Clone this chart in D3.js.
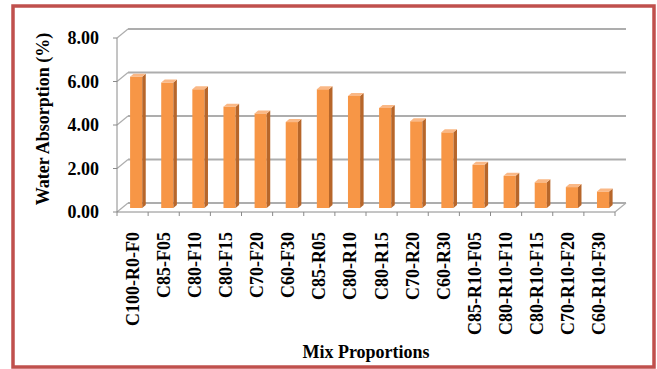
<!DOCTYPE html>
<html>
<head>
<meta charset="utf-8">
<script src="https://cdn.jsdelivr.net/npm/d3@7"></script>
<style>
  body { margin: 0; background: #fff; }
  text { font-family: "Liberation Serif", "Times New Roman", serif; font-weight: bold; fill: #000; }
</style>
</head>
<body>
<script>
// chart data
const categories = ["C100-R0-F0", "C85-F05", "C80-F10", "C80-F15", "C70-F20", "C60-F30",
  "C85-R05", "C80-R10", "C80-R15", "C70-R20", "C60-R30",
  "C85-R10-F05", "C80-R10-F10", "C80-R10-F15", "C70-R10-F20", "C60-R10-F30"];
const absorption = [6.04, 5.77, 5.46, 4.66, 4.35, 3.95, 5.46, 5.15, 4.6, 3.99, 3.48, 1.99, 1.48, 1.18, 0.96, 0.76];
const yTicks = [0, 2, 4, 6, 8];

const width = 657, height = 369;
// 3d offsets: back wall and bar depth
const backDx = 11, backDy = -9;
const barDx = 3.6, barDy = -4;
const sideDx = 3.5, sideDy = -3;

const svg = d3.select("body").append("svg")
  .attr("width", width)
  .attr("height", height);

// outer frame
svg.append("rect")
  .attr("x", 13).attr("y", 6)
  .attr("width", 641).attr("height", 361)
  .attr("fill", "#fff")
  .attr("stroke", "#C0504D")
  .attr("stroke-width", 3.5);

const x = d3.scaleBand().domain(categories).range([117, 615]);
const y = d3.scaleLinear().domain([0, 8]).range([212, 38]);

// gridlines on the back wall and side wall
const grid = svg.append("g");
yTicks.forEach(function (t) {
  grid.append("line")
    .attr("x1", 117 + backDx).attr("x2", 615 + backDx)
    .attr("y1", y(t) + backDy).attr("y2", y(t) + backDy)
    .attr("stroke", "#ADADAD").attr("stroke-width", 2);
  grid.append("line")
    .attr("x1", 117).attr("x2", 117 + backDx)
    .attr("y1", y(t)).attr("y2", y(t) + backDy)
    .attr("stroke", "#ADADAD").attr("stroke-width", 1.2);
});
// floor right edge
grid.append("line")
  .attr("x1", 615).attr("x2", 615 + backDx)
  .attr("y1", y(0)).attr("y2", y(0) + backDy)
  .attr("stroke", "#ADADAD").attr("stroke-width", 1.2);

// bars
const barW = x.bandwidth() * 0.39;
const bars = svg.append("g").selectAll("g")
  .data(absorption)
  .join("g");

bars.each(function (v, i) {
  const g = d3.select(this);
  const x0 = x(categories[i]) + x.bandwidth() / 2 + barDx - barW / 2;
  const x1 = x0 + barW;
  const yt = y(v) + barDy;
  const yb = y(0) + barDy;
  // front face
  g.append("rect")
    .attr("x", x0).attr("y", yt)
    .attr("width", barW).attr("height", yb - yt)
    .attr("fill", "#F79646");
  // side face
  g.append("polygon")
    .attr("points", [[x1, yt], [x1 + sideDx, yt + sideDy], [x1 + sideDx, yb + sideDy], [x1, yb]].join(" "))
    .attr("fill", "#B7662A");
  // top face
  g.append("polygon")
    .attr("points", [[x0, yt], [x0 + sideDx, yt + sideDy], [x1 + sideDx, yt + sideDy], [x1, yt]].join(" "))
    .attr("fill", "#FAB886");
});

// axes
const axisColor = "#8A8A8A";
svg.append("line")
  .attr("x1", 117).attr("x2", 117)
  .attr("y1", y(8)).attr("y2", y(0))
  .attr("stroke", axisColor);
svg.append("line")
  .attr("x1", 117).attr("x2", 615)
  .attr("y1", y(0)).attr("y2", y(0))
  .attr("stroke", axisColor);

yTicks.forEach(function (t) {
  svg.append("line")
    .attr("x1", 113).attr("x2", 117)
    .attr("y1", y(t)).attr("y2", y(t))
    .attr("stroke", axisColor);
  svg.append("text")
    .attr("x", 99).attr("y", y(t))
    .attr("text-anchor", "end")
    .attr("dominant-baseline", "central")
    .style("font-size", "18px")
    .text(t.toFixed(2));
});

// category ticks at band edges
const edges = categories.map(function (c) { return x(c); }).concat([615]);
edges.forEach(function (e) {
  svg.append("line")
    .attr("x1", e).attr("x2", e)
    .attr("y1", y(0)).attr("y2", y(0) + 4)
    .attr("stroke", axisColor);
});

// category labels, rotated
categories.forEach(function (c) {
  const cx = x(c) + x.bandwidth() / 2;
  svg.append("text")
    .attr("transform", "translate(" + cx + ",232) rotate(-90)")
    .attr("text-anchor", "end")
    .attr("dominant-baseline", "central")
    .style("font-size", "18px")
    .text(c);
});

// axis titles
svg.append("text")
  .attr("transform", "translate(43,119) rotate(-90)")
  .attr("text-anchor", "middle")
  .attr("dominant-baseline", "central")
  .style("font-size", "18px")
  .text("Water Absorption (%)");

svg.append("text")
  .attr("x", 366).attr("y", 358)
  .attr("text-anchor", "middle")
  .style("font-size", "18px")
  .text("Mix Proportions");
</script>
</body>
</html>
